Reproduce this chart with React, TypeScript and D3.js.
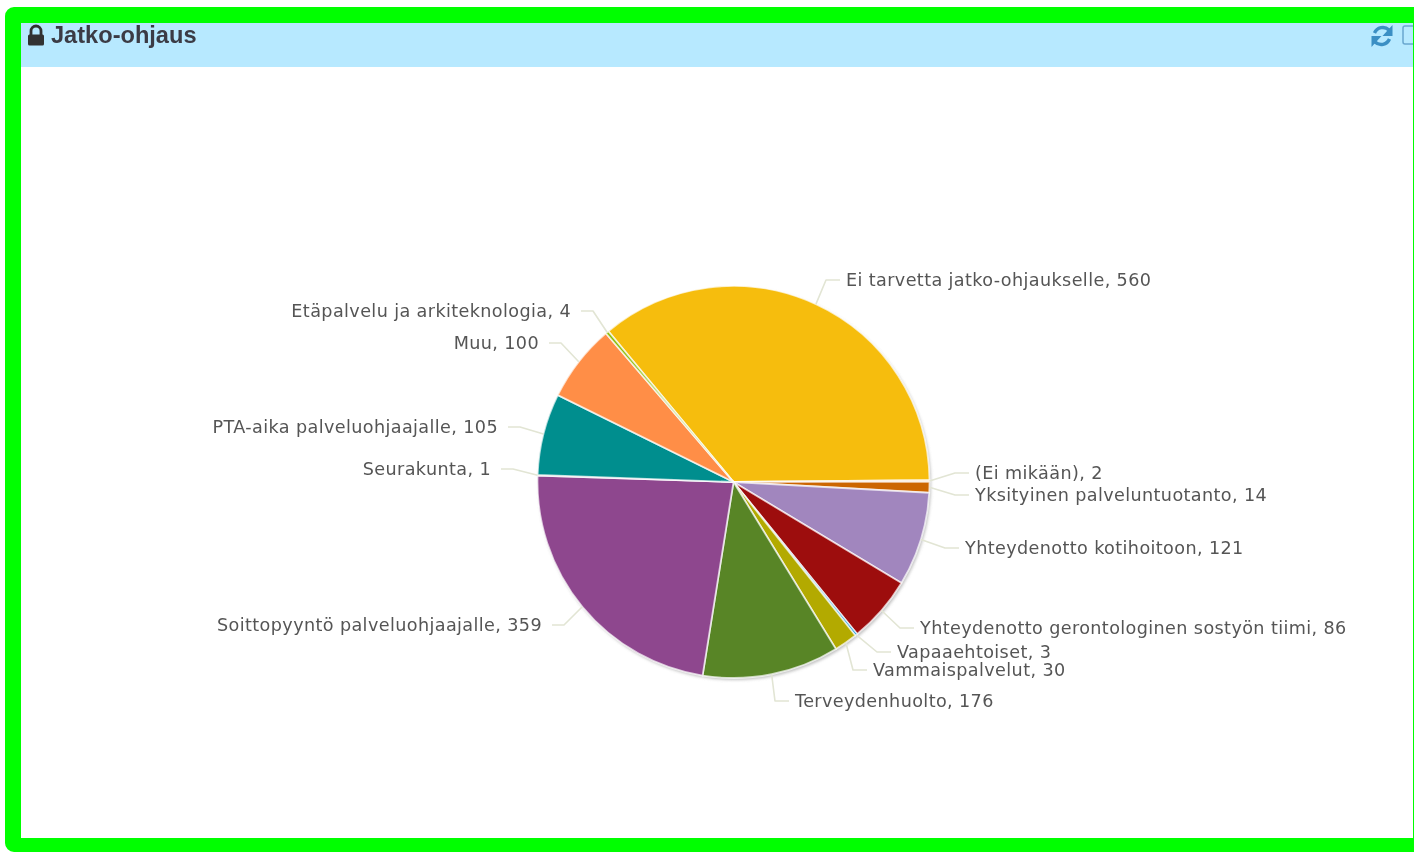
import React from "react";
import * as d3 from "d3";

const categories = [
  "Ei tarvetta jatko-ohjaukselle", "(Ei mikään)", "Yksityinen palveluntuotanto",
  "Yhteydenotto kotihoitoon", "Yhteydenotto gerontologinen sostyön tiimi", "Vapaaehtoiset",
  "Vammaispalvelut", "Terveydenhuolto", "Soittopyyntö palveluohjaajalle", "Seurakunta",
  "PTA-aika palveluohjaajalle", "Muu", "Etäpalvelu ja arkiteknologia",
];
const values = [560, 2, 14, 121, 86, 3, 30, 176, 359, 1, 105, 100, 4];
const colors = [
  "#F6BD0F", "#FDC68C", "#CC6600", "#A186BE", "#9D080D", "#008ED6", "#B3AA00",
  "#588526", "#8E468E", "#D64646", "#008E8E", "#FF8E46", "#8BBA00",
];
// label layout: text anchor x, baseline y, side
const labelX = [846, 975, 975, 965, 920, 897, 873, 795, 542, 491, 498, 539, 571];
const labelY = [286, 479, 501, 554, 634, 658, 676, 707, 631, 475, 433, 349, 317];

const CX = 733.5, CY = 482, R = 196;
const START = (-39.7 * Math.PI) / 180;

export default function App() {
  const pie = d3.pie<number>().sort(null).startAngle(START).endAngle(START + 2 * Math.PI);
  const arcs = pie(values);
  const arc = d3.arc<d3.PieArcDatum<number>>().innerRadius(0).outerRadius(R);
  const edge = d3.arc<d3.PieArcDatum<number>>().innerRadius(R).outerRadius(R);
  const font = "'DejaVu Sans', Verdana, sans-serif";
  return (
    <svg width={1414} height={853} style={{ position: "absolute", left: 0, top: 0, background: "#fff" }}>
      <defs>
        <filter id="soft" x="-5%" y="-5%" width="110%" height="110%">
          <feGaussianBlur stdDeviation="0.55" />
        </filter>
        <filter id="shadow" x="-10%" y="-10%" width="120%" height="120%">
          <feGaussianBlur stdDeviation="1.5" />
        </filter>
      </defs>
      <rect x={21} y={23} width={1393} height={44} fill="#B7E9FF" />
      <g filter="url(#soft)">
        {/* lock */}
        <path d="M31 35 v-4 a5 5 0 0 1 10 0 V35" fill="none" stroke="#333" strokeWidth={2.8} />
        <rect x={28} y={34.5} width={16} height={11} rx={1.5} fill="#333" />
        <text x={51} y={43} fontFamily="'Liberation Sans', Arial, sans-serif" fontWeight={700} fontSize={23.6} fill="#3b3b44">Jatko-ohjaus</text>
        {/* refresh */}
        <g fill="none" stroke="#3A8FC4" strokeWidth={3.4}>
          <path d="M1374.5 33 a9 9 0 0 1 14.5 -3" />
          <path d="M1389.5 39 a9 9 0 0 1 -14.5 3" />
        </g>
        <path d="M1392.5 25 v11 h-10 z" fill="#3A8FC4" />
        <path d="M1371.5 47 v-11 h10 z" fill="#3A8FC4" />
        <rect x={1403} y={26} width={14} height={18} rx={2} fill="none" stroke="#6AA7CF" strokeWidth={1.5} />

        {/* pie */}
        <circle cx={CX + 1.5} cy={CY + 2} r={R} fill="#999" opacity={0.6} filter="url(#shadow)" />
        <g transform={`translate(${CX},${CY})`}>
          {arcs.map((a, i) => (
            <path key={i} d={arc(a) ?? ""} fill={colors[i]} stroke="#fff" strokeOpacity={0.7} strokeWidth={1.8} />
          ))}
        </g>
        {/* connectors and labels */}
        {arcs.map((a, i) => {
          const [ex, ey] = edge.centroid(a);
          const x0 = CX + ex, y0 = CY + ey;
          const right = x0 > CX;
          const lx = labelX[i] + (right ? -6 : 10);
          const elbow = lx + (right ? -14 : 12);
          const ly = labelY[i] - 6;
          return (
            <g key={i}>
              <path d={`M${lx},${ly} L${elbow},${ly} L${x0},${y0}`} fill="none" stroke="#E2E5D4" strokeWidth={1.6} strokeLinejoin="round" />
              <text x={labelX[i]} y={labelY[i]} textAnchor={right ? "start" : "end"} fontFamily={font} fontSize={17.6} letterSpacing={0.39} fill="#555">
                {`${categories[i]}, ${values[i]}`}
              </text>
            </g>
          );
        })}
      </g>

      {/* frame */}
      <path
        fillRule="evenodd"
        fill="#00FF00"
        d="M14 7 H1414 V23 H21 V838 H1414 V852 H14 a9 9 0 0 1 -9 -9 V16 a9 9 0 0 1 9 -9 z"
      />
      <rect x={1413} y={23} width={1} height={815} fill="#00FF00" />
    </svg>
  );
}
